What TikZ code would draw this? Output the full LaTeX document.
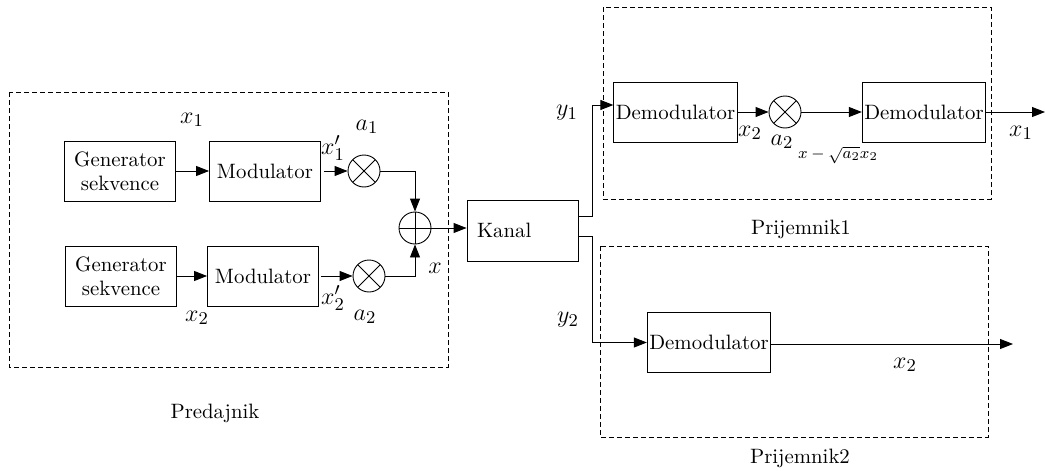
\documentclass[tikz,border=0pt]{standalone}
\usepackage{times}
\usetikzlibrary{arrows.meta}
\begin{document}
\begin{tikzpicture}[x=0.5pt,y=-0.5pt,line width=0.45pt,
  font=\rmfamily\fontsize{10.4}{12}\selectfont,
  blok/.style={draw,rectangle,minimum width=55.5pt,minimum height=30pt,inner sep=1pt,align=center},
  mnoz/.style={draw,circle,minimum size=16pt,inner sep=0pt,
    path picture={\draw (path picture bounding box.north west) -- (path picture bounding box.south east)
      (path picture bounding box.north east) -- (path picture bounding box.south west);}},
  sab/.style={draw,circle,minimum size=16pt,inner sep=0pt,
    path picture={\draw (path picture bounding box.north) -- (path picture bounding box.south)
      (path picture bounding box.west) -- (path picture bounding box.east);}},
  arr/.style={-{Triangle[length=6.5pt,width=5pt]}},
  okvir/.style={dash pattern=on 2.5pt off 1.5pt},
  lbl/.style={font=\fontsize{13}{15}\selectfont}]
  \useasboundingbox (0,0) rectangle (1045,471);
  % predajnik
  \draw[okvir] (9,92) rectangle (448,367);
  \node[blok] (gen1) at (120,171) {Generator\\sekvence};
  \node[blok] (mod1) at (265,171) {Modulator};
  \node[blok] (gen2) at (121,276) {Generator\\sekvence};
  \node[blok] (mod2) at (263,276) {Modulator};
  \node[mnoz] (mul1) at (364,171) {};
  \node[mnoz] (mul2) at (369,276) {};
  \node[sab] (add) at (415,228) {};
  \node[lbl] (lx1) at (192,120) {$x_1$};
  \node[lbl] (la1) at (367,127) {$a_1$};
  \node[lbl] (lx1p) at (333,148) {$x_1'$};
  \node[lbl] (lx2) at (197,318) {$x_2$};
  \node[lbl] (lx2p) at (333,298) {$x_2'$};
  \node[lbl] (la2) at (365,317) {$a_2$};
  \node[lbl] (lx) at (435,268) {$x$};
  \node (pred) at (215,413) {Predajnik};
  \draw[arr] (gen1) -- (mod1);
  \draw[arr] (gen2) -- (mod2);
  \draw[arr] ([xshift=1.5pt]mod1.east) -- (mul1.west);
  \draw[arr] ([xshift=1pt]mod2.east) -- (mul2.west);
  \draw[arr] (mul1.east) -| (add.north);
  \draw[arr] (mul2.east) -| (add.south);
  % kanal
  \node[draw,rectangle,text width=45.5pt,inner xsep=5pt,minimum height=30.5pt,align=left] (kanal) at (522.5,230.5) {Kanal};
  \draw[arr] (add.east) -- (add.east -| kanal.west);
  \coordinate (tap1) at (592,216);
  \coordinate (tap2) at (592,236);
  % prijemnik 1
  \draw[okvir] (603,7) rectangle (991,199);
  \node[blok,minimum width=58.5pt] (dem1) at (675.5,112) {Demodulator};
  \node[mnoz] (mul3) at (785,112) {};
  \node[blok,minimum width=59pt] (dem2) at (924,112) {Demodulator};
  \coordinate (out1) at (1045,112);
  \node[lbl] (ly1) at (567,113) {$y_1$};
  \node[lbl] (lx2b) at (750,133) {$x_2$};
  \node[lbl] (la2b) at (782,142) {$a_2$};
  \node[font=\fontsize{8}{9}\selectfont] (lsub) at (838,155) {$x-\sqrt{a_2}x_2$};
  \node[lbl] (lx1b) at (1021,133) {$x_1$};
  \node (prij1) at (801,229) {Prijemnik1};
  \draw[arr] (kanal.east |- tap1) -- (tap1) |- ([yshift=3.5pt]dem1.west);
  \draw[arr] (dem1.east) -- (mul3.west);
  \draw[arr] (mul3.east) -- (dem2.west);
  \draw[arr] (dem2.east) -- (out1);
  % prijemnik 2
  \draw[okvir] (600,246) rectangle (988,437);
  \node[blok,minimum width=59pt] (dem3) at (709,342.5) {Demodulator};
  \coordinate (out2) at (1013,344);
  \node[lbl] (ly2) at (568,320) {$y_2$};
  \node[lbl] (lx2c) at (905,365) {$x_2$};
  \node (prij2) at (800,458) {Prijemnik2};
  \draw[arr] (kanal.east |- tap2) -- (tap2) |- (dem3.west);
  \draw[arr] (dem3.east |- out2) -- (out2);
\end{tikzpicture}
\end{document}
